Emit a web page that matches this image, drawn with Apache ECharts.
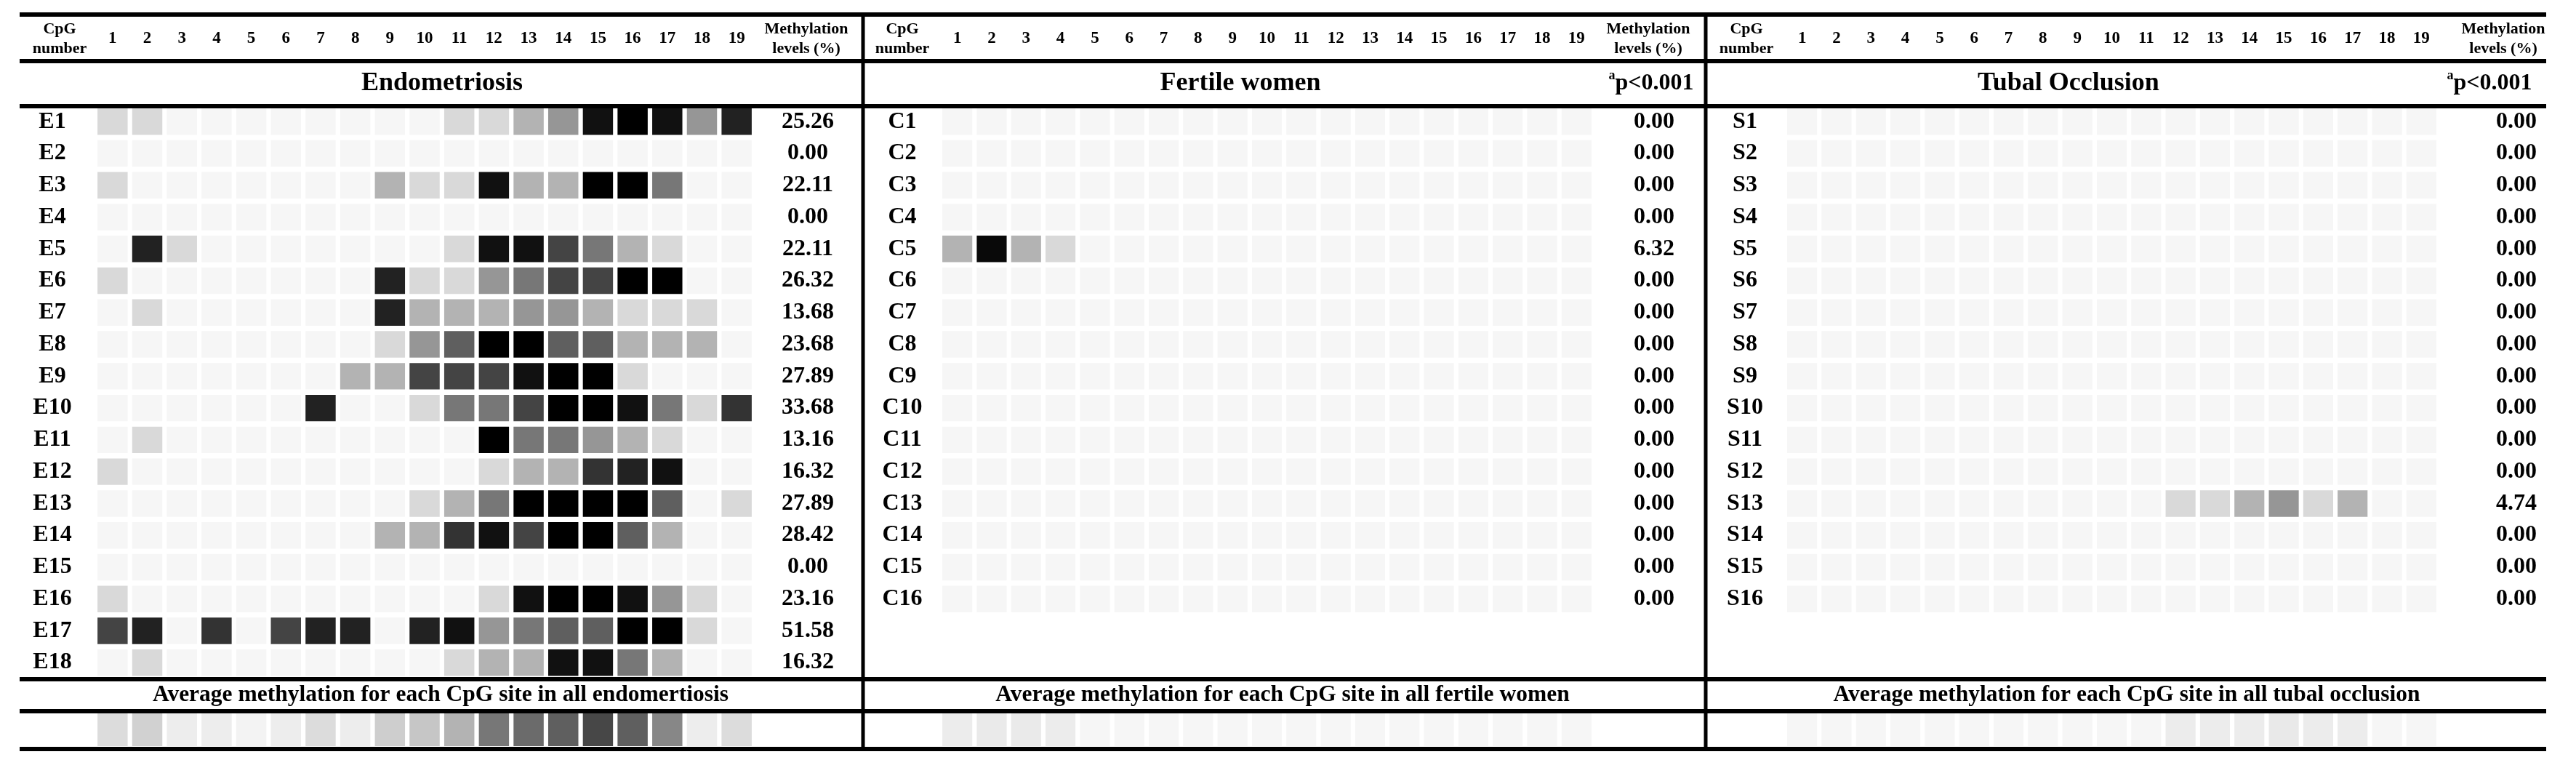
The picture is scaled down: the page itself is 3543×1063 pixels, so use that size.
<!DOCTYPE html>
<html>
<head>
<meta charset="utf-8">
<script src="https://cdn.jsdelivr.net/npm/echarts@6/dist/echarts.min.js"></script>
<style>
html,body{margin:0;padding:0;background:#fff;}
#chart{width:3543px;height:1063px;}
</style>
</head>
<body>
<div id="chart"></div>
<script>
// ---------------- DATA ----------------
const cpgSites = ['1','2','3','4','5','6','7','8','9','10','11','12','13','14','15','16','17','18','19'];

const endoRows = ['E1','E2','E3','E4','E5','E6','E7','E8','E9','E10','E11','E12','E13','E14','E15','E16','E17','E18'];
const endoLevels = ['25.26','0.00','22.11','0.00','22.11','26.32','13.68','23.68','27.89','33.68','13.16','16.32','27.89','28.42','0.00','23.16','51.58','16.32'];
const endoMethylation = [
  [.1,.1,0,0,0,0,0,0,0,0,.1,.1,.2,.3,.9,1,.9,.3,.8],
  [0,0,0,0,0,0,0,0,0,0,0,0,0,0,0,0,0,0,0],
  [.1,0,0,0,0,0,0,0,.2,.1,.1,.9,.2,.2,1,1,.4,0,0],
  [0,0,0,0,0,0,0,0,0,0,0,0,0,0,0,0,0,0,0],
  [0,.8,.1,0,0,0,0,0,0,0,.1,.9,.9,.6,.4,.2,.1,0,0],
  [.1,0,0,0,0,0,0,0,.8,.1,.1,.3,.4,.6,.6,1,1,0,0],
  [0,.1,0,0,0,0,0,0,.8,.2,.2,.2,.3,.3,.2,.1,.1,.1,0],
  [0,0,0,0,0,0,0,0,.1,.3,.5,1,1,.5,.5,.2,.2,.2,0],
  [0,0,0,0,0,0,0,.2,.2,.6,.6,.6,.9,1,1,.1,0,0,0],
  [0,0,0,0,0,0,.8,0,0,.1,.4,.4,.6,1,1,.9,.4,.1,.7],
  [0,.1,0,0,0,0,0,0,0,0,0,1,.4,.4,.3,.2,.1,0,0],
  [.1,0,0,0,0,0,0,0,0,0,0,.1,.2,.2,.7,.8,.9,0,0],
  [0,0,0,0,0,0,0,0,0,.1,.2,.4,1,1,1,1,.5,0,.1],
  [0,0,0,0,0,0,0,0,.2,.2,.7,.9,.6,1,1,.5,.2,0,0],
  [0,0,0,0,0,0,0,0,0,0,0,0,0,0,0,0,0,0,0],
  [.1,0,0,0,0,0,0,0,0,0,0,.1,.9,1,1,.9,.3,.1,0],
  [.6,.8,0,.7,0,.6,.8,.8,0,.8,.9,.3,.4,.5,.5,1,1,.1,0],
  [0,.1,0,0,0,0,0,0,0,0,.1,.2,.2,.9,.9,.4,.2,0,0]
];
const endoAverage = [.09,.12,.03,.03,.01,.03,.09,.03,.13,.15,.20,.40,.45,.50,.59,.50,.35,.03,.09];

const fertileRows = ['C1','C2','C3','C4','C5','C6','C7','C8','C9','C10','C11','C12','C13','C14','C15','C16'];
const fertileLevels = ['0.00','0.00','0.00','0.00','6.32','0.00','0.00','0.00','0.00','0.00','0.00','0.00','0.00','0.00','0.00','0.00'];
const fertileMethylation = [
  [0,0,0,0,0,0,0,0,0,0,0,0,0,0,0,0,0,0,0],
  [0,0,0,0,0,0,0,0,0,0,0,0,0,0,0,0,0,0,0],
  [0,0,0,0,0,0,0,0,0,0,0,0,0,0,0,0,0,0,0],
  [0,0,0,0,0,0,0,0,0,0,0,0,0,0,0,0,0,0,0],
  [.2,.95,.2,.1,0,0,0,0,0,0,0,0,0,0,0,0,0,0,0],
  [0,0,0,0,0,0,0,0,0,0,0,0,0,0,0,0,0,0,0],
  [0,0,0,0,0,0,0,0,0,0,0,0,0,0,0,0,0,0,0],
  [0,0,0,0,0,0,0,0,0,0,0,0,0,0,0,0,0,0,0],
  [0,0,0,0,0,0,0,0,0,0,0,0,0,0,0,0,0,0,0],
  [0,0,0,0,0,0,0,0,0,0,0,0,0,0,0,0,0,0,0],
  [0,0,0,0,0,0,0,0,0,0,0,0,0,0,0,0,0,0,0],
  [0,0,0,0,0,0,0,0,0,0,0,0,0,0,0,0,0,0,0],
  [0,0,0,0,0,0,0,0,0,0,0,0,0,0,0,0,0,0,0],
  [0,0,0,0,0,0,0,0,0,0,0,0,0,0,0,0,0,0,0],
  [0,0,0,0,0,0,0,0,0,0,0,0,0,0,0,0,0,0,0],
  [0,0,0,0,0,0,0,0,0,0,0,0,0,0,0,0,0,0,0]
];
const fertileAverage = [.035,.04,.04,.035,0,0,0,0,0,0,0,0,0,0,0,0,0,0,0];

const tubalRows = ['S1','S2','S3','S4','S5','S6','S7','S8','S9','S10','S11','S12','S13','S14','S15','S16'];
const tubalLevels = ['0.00','0.00','0.00','0.00','0.00','0.00','0.00','0.00','0.00','0.00','0.00','0.00','4.74','0.00','0.00','0.00'];
const tubalMethylation = [
  [0,0,0,0,0,0,0,0,0,0,0,0,0,0,0,0,0,0,0],
  [0,0,0,0,0,0,0,0,0,0,0,0,0,0,0,0,0,0,0],
  [0,0,0,0,0,0,0,0,0,0,0,0,0,0,0,0,0,0,0],
  [0,0,0,0,0,0,0,0,0,0,0,0,0,0,0,0,0,0,0],
  [0,0,0,0,0,0,0,0,0,0,0,0,0,0,0,0,0,0,0],
  [0,0,0,0,0,0,0,0,0,0,0,0,0,0,0,0,0,0,0],
  [0,0,0,0,0,0,0,0,0,0,0,0,0,0,0,0,0,0,0],
  [0,0,0,0,0,0,0,0,0,0,0,0,0,0,0,0,0,0,0],
  [0,0,0,0,0,0,0,0,0,0,0,0,0,0,0,0,0,0,0],
  [0,0,0,0,0,0,0,0,0,0,0,0,0,0,0,0,0,0,0],
  [0,0,0,0,0,0,0,0,0,0,0,0,0,0,0,0,0,0,0],
  [0,0,0,0,0,0,0,0,0,0,0,0,0,0,0,0,0,0,0],
  [0,0,0,0,0,0,0,0,0,0,0,.1,.1,.2,.3,.1,.2,0,0],
  [0,0,0,0,0,0,0,0,0,0,0,0,0,0,0,0,0,0,0],
  [0,0,0,0,0,0,0,0,0,0,0,0,0,0,0,0,0,0,0],
  [0,0,0,0,0,0,0,0,0,0,0,0,0,0,0,0,0,0,0]
];
const tubalAverage = [0,0,0,0,0,0,0,0,0,0,0,.035,.035,.035,.045,.035,.035,0,0];

const panelTitles = ['Endometriosis','Fertile women','Tubal Occlusion'];
const avgTitles = ['Average methylation for each CpG site in all endomertiosis',
                   'Average methylation for each CpG site in all fertile women',
                   'Average methylation for each CpG site in all tubal occlusion'];
const pValueText = 'p<0.001';

// ---------------- LAYOUT / STYLE ----------------
const FONT = '"Liberation Serif","Times New Roman",serif';
const grayScale = ['#f6f6f6','#d9d9d9','#b3b3b3','#969696','#777777','#5f5f5f','#444444','#333333','#222222','#111111','#000000'];
const rowPitch = 43.76;
const gridTop = 145.4;
const avgTop = 981, avgHeight = 45;
const layout = [
  {left:131,  width:906, labelMargin:59, valueMargin:74,  cpgX:82,   methX:1109, titleX:608,  pX:null, avgX:606},
  {left:1293, width:899, labelMargin:52, valueMargin:83,  cpgX:1241, methX:2267, titleX:1706, pX:2271, avgX:1764},
  {left:2455, width:899, labelMargin:55, valueMargin:107, cpgX:2402, methX:3443, titleX:2845, pX:3424, avgX:2925}
];
const panels = [
  {rows:endoRows, levels:endoLevels, values:endoMethylation, avg:endoAverage},
  {rows:fertileRows, levels:fertileLevels, values:fertileMethylation, avg:fertileAverage},
  {rows:tubalRows, levels:tubalLevels, values:tubalMethylation, avg:tubalAverage}
];

const grids = [], xAxes = [], yAxes = [], series = [];
function cellRenderer(vgap){
  return function(params, api){
    const c = api.coord([api.value(0), api.value(1)]);
    const s = api.size([1,1]);
    const w = s[0]*0.87, h = s[1]-vgap;
    return {type:'rect', shape:{x:c[0]-w/2, y:c[1]-h/2, width:w, height:h}, style:{fill:api.visual('color')}};
  };
}
const labelFont = {fontFamily:FONT, fontWeight:'bold', color:'#000'};

panels.forEach((p, i) => {
  const L = layout[i];
  grids.push({left:L.left, top:gridTop, width:L.width, height:p.rows.length*rowPitch});
  xAxes.push({type:'category', gridIndex:i, data:cpgSites, position:'top', offset:gridTop-53.5,
    axisLine:{show:false}, axisTick:{show:false}, splitLine:{show:false},
    axisLabel:Object.assign({fontSize:23, margin:0, verticalAlign:'middle', interval:0}, labelFont)});
  yAxes.push({type:'category', gridIndex:i, data:p.rows, inverse:true, position:'left',
    axisLine:{show:false}, axisTick:{show:false}, splitLine:{show:false},
    axisLabel:Object.assign({fontSize:32, margin:L.labelMargin, align:'center', interval:0}, labelFont)});
  const d = [];
  p.values.forEach((row, r) => row.forEach((v, c) => d.push([c, r, v])));
  series.push({type:'custom', xAxisIndex:i, yAxisIndex:i, data:d, renderItem:cellRenderer(7.3), silent:true});
});
panels.forEach((p, i) => {
  const L = layout[i];
  yAxes.push({type:'category', gridIndex:i, data:p.levels, inverse:true, position:'right',
    axisLine:{show:false}, axisTick:{show:false}, splitLine:{show:false},
    axisLabel:Object.assign({fontSize:32, margin:L.valueMargin, align:'center', interval:0}, labelFont)});
});
panels.forEach((p, i) => {
  const L = layout[i];
  const gi = 3 + i;
  grids.push({left:L.left, top:avgTop, width:L.width, height:avgHeight});
  xAxes.push({type:'category', gridIndex:gi, data:cpgSites, show:false});
  yAxes.push({type:'category', gridIndex:gi, data:['avg'], show:false});
  const d = p.avg.map((v, c) => [c, 0, v]);
  series.push({type:'custom', xAxisIndex:gi, yAxisIndex:6+i, data:d, renderItem:cellRenderer(0), silent:true});
});

// table rules and texts
const graphic = [];
const X0 = 27, X1 = 3502;
[20, 84, 146, 934, 978, 1030].forEach(y => {
  graphic.push({type:'rect', shape:{x:X0, y:y-3, width:X1-X0, height:6}, style:{fill:'#000'}, z:10});
});
[1187, 2346].forEach(x => {
  graphic.push({type:'rect', shape:{x:x-2.5, y:17, width:5, height:1016}, style:{fill:'#000'}, z:10});
});
function txt(text, x, y, size, lh){
  return {type:'text', x:x, y:y, z:11, style:{text:text, fontFamily:FONT, fontWeight:'bold', fontSize:size, fill:'#000',
    align:'center', verticalAlign:'middle', textAlign:'center', textVerticalAlign:'middle', lineHeight:lh||size}};
}
layout.forEach((L, i) => {
  graphic.push(txt('CpG\nnumber', L.cpgX, 53.5, 22, 27));
  graphic.push(txt('Methylation\nlevels (%)', L.methX, 53.5, 22, 27));
  graphic.push(txt(panelTitles[i], L.titleX, 115, 36));
  graphic.push(txt(avgTitles[i], L.avgX, 956, 31.5));
  if (L.pX) {
    graphic.push({type:'text', x:L.pX, y:115, z:11, style:{
      text:'{s|a}{m|' + pValueText + '}', align:'center', verticalAlign:'middle', textAlign:'center', textVerticalAlign:'middle',
      rich:{ s:{fontFamily:FONT, fontWeight:'bold', fontSize:18, verticalAlign:'top', lineHeight:40},
             m:{fontFamily:FONT, fontWeight:'bold', fontSize:32, lineHeight:40}}
    }});
  }
});

const chart = echarts.init(document.getElementById('chart'), null, {renderer:'canvas'});
chart.setOption({
  animation:false,
  backgroundColor:'#fff',
  grid:grids,
  xAxis:xAxes,
  yAxis:yAxes,
  visualMap:{type:'continuous', min:0, max:1, dimension:2, show:false, seriesIndex:[0,1,2,3,4,5], inRange:{color:grayScale}},
  series:series,
  graphic:graphic
});
</script>
</body>
</html>
